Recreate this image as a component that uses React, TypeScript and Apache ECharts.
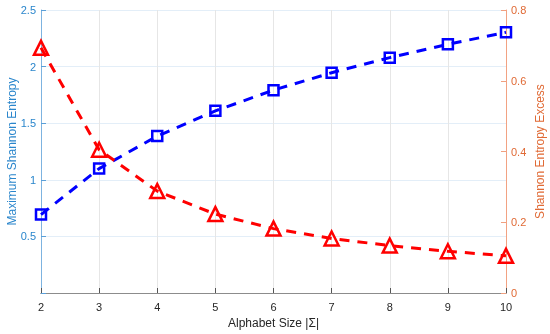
import React, { useEffect, useRef } from "react";
import * as echarts from "echarts";

const alphabetSizes = [2, 3, 4, 5, 6, 7, 8, 9, 10];
const maxEntropy = [0.693, 1.099, 1.386, 1.609, 1.792, 1.946, 2.079, 2.197, 2.303];
const entropyExcess = [0.693, 0.405, 0.288, 0.223, 0.182, 0.154, 0.134, 0.118, 0.105];

export default function App() {
  const ref = useRef<HTMLDivElement>(null);
  useEffect(() => {
    if (!ref.current) return;
    const chart = echarts.init(ref.current, null, { renderer: "svg" });
    const font = "Liberation Sans, Arial, Helvetica, sans-serif";
    chart.setOption({
      animation: false,
      textStyle: { fontFamily: font },
      grid: { left: 41, right: 44, top: 10, bottom: 41, containLabel: false, outerBoundsMode: "none" },
      xAxis: [
        {
          type: "value",
          min: 2,
          max: 10,
          interval: 1,
          name: "Alphabet Size |Σ|",
          nameLocation: "middle",
          nameGap: 23,
          nameTextStyle: { color: "#262626", fontSize: 12, fontFamily: font },
          axisLine: { lineStyle: { color: "#8c8c8c", width: 1 } },
          axisTick: { inside: true, length: 5, lineStyle: { color: "#555" } },
          axisLabel: { color: "#262626", fontSize: 11, margin: 8 },
          splitLine: { show: true, lineStyle: { color: "#e6e6e6", width: 1 } },
        },
        {
          type: "value",
          min: 2,
          max: 10,
          interval: 1,
          position: "top",
          axisLine: { show: true, lineStyle: { color: "#8c8c8c", width: 1 } },
          axisTick: { show: false },
          axisLabel: { show: false },
          splitLine: { show: false },
        },
      ],
      yAxis: [
        {
          type: "value",
          min: 0,
          max: 2.5,
          interval: 0.5,
          name: "Maximum Shannon Entropy",
          nameLocation: "middle",
          nameGap: 23,
          nameMoveOverlap: false,
          nameTextStyle: { color: "#2a86cc", fontSize: 12, fontFamily: font },
          axisLine: { show: true, lineStyle: { color: "#7db3e0", width: 1 } },
          axisTick: { show: true, inside: true, length: 5, lineStyle: { color: "#5a9fd8" } },
          axisLabel: {
            color: "#2a86cc",
            fontSize: 11,
            margin: 5,
            formatter: (v: number) => (v === 0 ? "" : String(v)),
          },
          splitLine: { show: true, lineStyle: { color: "#e3eef8", width: 1 } },
        },
        {
          type: "value",
          min: 0,
          max: 0.8,
          interval: 0.2,
          position: "right",
          name: "Shannon Entropy Excess",
          nameLocation: "middle",
          nameGap: 28,
          nameMoveOverlap: false,
          nameRotate: 90,
          nameTextStyle: { color: "#e06a35", fontSize: 12, fontFamily: font },
          axisLine: { show: true, lineStyle: { color: "#f2a282", width: 1 } },
          axisTick: { show: true, inside: true, length: 5, lineStyle: { color: "#f0a080" } },
          axisLabel: { color: "#e06a35", fontSize: 11, margin: 5 },
          splitLine: { show: false },
        },
      ],
      series: [
        {
          type: "line",
          xAxisIndex: 0,
          yAxisIndex: 0,
          data: alphabetSizes.map((x, i) => [x, maxEntropy[i]]),
          symbol: "rect",
          symbolSize: 10,
          lineStyle: { color: "#0000ff", width: 3, type: [10, 8] },
          itemStyle: { color: "rgba(255,255,255,0)", borderColor: "#0000ff", borderWidth: 2.5 },
          z: 3,
        },
        {
          type: "line",
          xAxisIndex: 0,
          yAxisIndex: 1,
          data: alphabetSizes.map((x, i) => [x, entropyExcess[i]]),
          symbol: "triangle",
          symbolSize: 14,
          lineStyle: { color: "#ff0000", width: 3, type: [10, 8] },
          itemStyle: { color: "rgba(255,255,255,0)", borderColor: "#ff0000", borderWidth: 2.5 },
          z: 3,
        },
      ],
    });
    return () => chart.dispose();
  }, []);
  return (
    <div
      ref={ref}
      style={{ position: "fixed", left: 0, top: 0, width: 550, height: 334 }}
    />
  );
}
